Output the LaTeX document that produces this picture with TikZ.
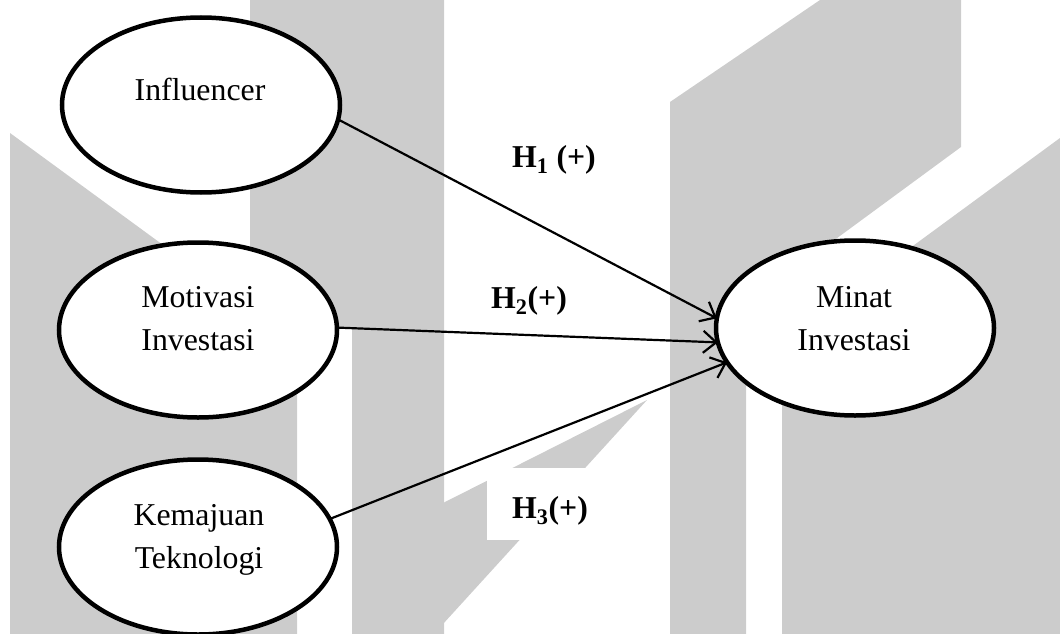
\documentclass[tikz,border=0pt]{standalone}
\usepackage{fontspec}
\setmainfont{Liberation Serif}
\usetikzlibrary{arrows.meta,shapes.geometric}
\definecolor{wm}{HTML}{CCCCCC}
\begin{document}
\begin{tikzpicture}[x=1pt,y=-1pt,
  wmshape/.style={fill=wm,draw=none},
  latent/.style={ellipse,draw=black,line width=4.5pt,fill=white,minimum width=278pt,minimum height=175pt,inner sep=0pt,outer sep=0pt},
  vartext/.style={anchor=base,inner sep=0pt,font=\fontsize{31.8}{43}\selectfont},
  hyp/.style={anchor=base west,inner sep=0pt,font=\fontsize{31.8}{43}\selectfont\bfseries},
  link/.style={draw=black,line width=2.2pt,-{Straight Barb[length=13pt,width=22pt]}}
]
\useasboundingbox (0,0) rectangle (1060,634);
% watermark
\fill[wmshape] (10,133) -- (297,343) -- (297,634) -- (10,634) -- cycle;
\fill[wmshape] (250,0) -- (444,0) -- (444,634) -- (352,634) -- (352,327) -- (250,327) -- cycle;
\fill[wmshape] (443,503) -- (647,400) -- (443,624) -- cycle;
\fill[wmshape] (670,102) -- (820,0) -- (961,0) -- (961,147) -- (746,305) -- (746,634) -- (670,634) -- cycle;
\fill[wmshape] (782,342) -- (1060,138) -- (1060,634) -- (782,634) -- cycle;
\fill[white] (487,468) rectangle (600,540);
% latent variables
\node[latent] (inf) at (201,105) {};
\node[latent] (mot) at (198,330) {};
\node[latent] (kem) at (198,547) {};
\node[latent] (minat) at (855,328) {};
\node[vartext] (inft) at (200,100) {Influencer};
\node[vartext] (mott1) at (198,307) {Motivasi};
\node[vartext] (mott2) at (198,350) {Investasi};
\node[vartext] (kemt1) at (199,525) {Kemajuan};
\node[vartext] (kemt2) at (199,568) {Teknologi};
\node[vartext] (mint1) at (854,307) {Minat};
\node[vartext] (mint2) at (854,350) {Investasi};
% paths
\draw[link] (inf.-6) -- (minat.176);
\draw[link] (mot.1) -- (minat.186.5);
\draw[link] (kem.12) -- (minat.195);
% hypotheses
\node[hyp] (h1) at (512,167) {H\textsubscript{1} (+)};
\node[hyp] (h2) at (491,308) {H\textsubscript{2}(+)};
\node[hyp] (h3) at (512,518) {H\textsubscript{3}(+)};
\end{tikzpicture}
\end{document}
